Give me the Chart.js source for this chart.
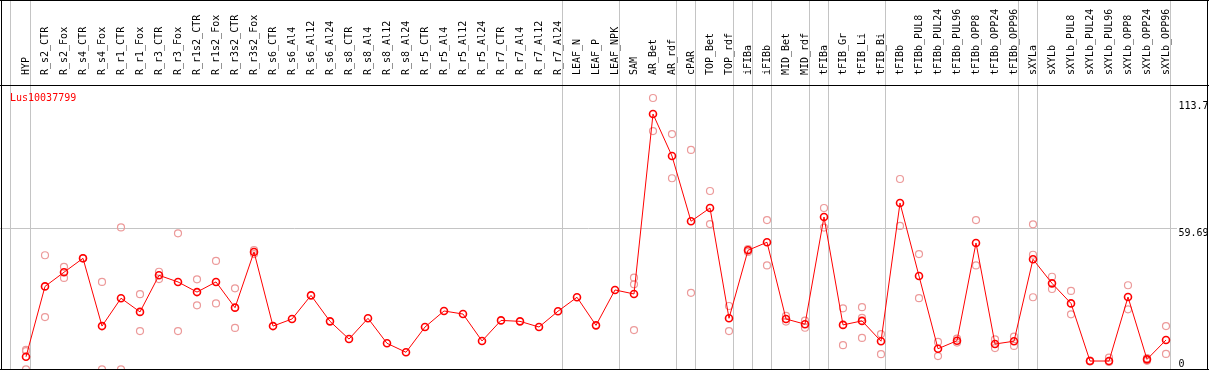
<!DOCTYPE html>
<html>
<head>
<meta charset="utf-8">
<script src="https://cdn.jsdelivr.net/npm/chart.js@4.4.1/dist/chart.umd.min.js"></script>
<style>
  html, body { margin: 0; padding: 0; background: #fff; }
</style>
</head>
<body>
<canvas id="expr" width="1209" height="370"></canvas>
<script>
const geneId = 'Lus10037799';

const samples = ['HYP', 'R_s2_CTR', 'R_s2_Fox', 'R_s4_CTR', 'R_s4_Fox', 'R_r1_CTR', 'R_r1_Fox',
  'R_r3_CTR', 'R_r3_Fox', 'R_r1s2_CTR', 'R_r1s2_Fox', 'R_r3s2_CTR', 'R_r3s2_Fox',
  'R_s6_CTR', 'R_s6_Al4', 'R_s6_Al12', 'R_s6_Al24', 'R_s8_CTR', 'R_s8_Al4', 'R_s8_Al12', 'R_s8_Al24',
  'R_r5_CTR', 'R_r5_Al4', 'R_r5_Al12', 'R_r5_Al24', 'R_r7_CTR', 'R_r7_Al4', 'R_r7_Al12', 'R_r7_Al24',
  'LEAF_N', 'LEAF_P', 'LEAF_NPK', 'SAM', 'AR_Bet', 'AR_rdf', 'cPAR', 'TOP_Bet', 'TOP_rdf',
  'iFIBa', 'iFIBb', 'MID_Bet', 'MID_rdf', 'tFIBa', 'tFIB_Gr', 'tFIB_Li', 'tFIB_Bi',
  'tFIBb', 'tFIBb_PUL8', 'tFIBb_PUL24', 'tFIBb_PUL96', 'tFIBb_OPP8', 'tFIBb_OPP24', 'tFIBb_OPP96',
  'sXYLa', 'sXYLb', 'sXYLb_PUL8', 'sXYLb_PUL24', 'sXYLb_PUL96', 'sXYLb_OPP8', 'sXYLb_OPP24', 'sXYLb_OPP96'];

// mean expression
const meanExpr = [5.3, 35.1, 41.1, 47.0, 18.3, 30.1, 24.3, 39.8, 37.0, 32.7, 37.0, 26.1, 49.7,
  18.3, 21.3, 31.3, 20.3, 12.8, 21.6, 11.0, 7.2, 17.9, 24.7, 23.4, 12.0, 20.7, 20.3, 17.9, 24.6,
  30.5, 18.6, 33.6, 31.9, 108.1, 90.3, 62.7, 68.3, 21.6, 50.4, 53.8, 21.3, 19.1, 64.5, 18.8, 20.5, 11.9,
  70.4, 39.5, 8.7, 12.1, 53.5, 10.7, 11.9, 46.6, 36.4, 27.9, 3.5, 3.5, 30.6, 4.2, 12.4];

// replicates
const rep1 = [7.7, 48.3, 43.4, 47.0, 37.0, 60.1, 31.8, 41.3, 57.6, 38.1, 45.9, 34.3, 50.5,
  null, null, null, null, null, null, null, null, null, null, null, null, null, null, null, null,
  null, null, null, 38.8, 114.9, 99.6, 92.9, 75.5, 26.8, 50.9, 63.2, 22.6, 20.6, 68.3, 25.8, 26.3, 14.9,
  80.6, 48.8, 11.6, 13.0, 63.2, 12.7, 13.8, 61.4, 39.2, 33.2, 3.7, 4.9, 35.6, 4.7, 18.3];
const rep2 = [0, 22.1, 38.7, 47.0, 0, 0, 16.2, 38.2, 16.2, 27.1, 27.9, 17.5, 48.8,
  null, null, null, null, null, null, null, null, null, null, null, null, null, null, null, null,
  null, null, null, 16.6, 100.9, 80.9, 32.4, 61.5, 16.2, 49.7, 44.0, 20.2, 17.6, 60.0, 10.2, 13.3, 6.4,
  60.7, 30.1, 5.6, 11.3, 44.0, 9.0, 9.9, 30.5, 34.0, 23.3, 3.3, 3.1, 25.4, 3.6, 6.5];
const rep3 = [8.2, null, null, null, null, null, null, null, null, null, null, null, null,
  null, null, null, null, null, null, null, null, null, null, null, null, null, null, null, null,
  null, null, null, 36.0, null, null, null, null, null, null, null, null, null, null, null, 21.8, null,
  null, null, null, null, null, null, null, 48.5, null, null, null, null, null, null, null];

// last sample of each group (separator drawn after it)
const groupEnds = ['HYP', 'R_r7_Al24', 'LEAF_NPK', 'AR_rdf', 'cPAR', 'TOP_rdf', 'iFIBa', 'iFIBb',
  'MID_rdf', 'tFIBa', 'tFIB_Bi', 'tFIBb_OPP96', 'sXYLa', 'sXYLb_OPP96'];

const yTicks = [0, 59.69, 113.7];

const MONO = '"DejaVu Sans Mono", "Liberation Mono", monospace';
const repColor = '#ec9a9a';

const frame = {
  id: 'frame',
  beforeDraw(chart) {
    const { ctx, scales: { x, y } } = chart;
    const step = x.getPixelForValue(1) - x.getPixelForValue(0);
    const xs = [x.getPixelForValue(0) - step * 0.84];
    groupEnds.forEach(n => xs.push(x.getPixelForValue(samples.indexOf(n)) + step * 0.24));
    ctx.save();
    ctx.strokeStyle = '#c4c4c4';
    ctx.lineWidth = 1;
    ctx.beginPath();
    xs.forEach(px => {
      const r = Math.floor(px) + 0.5;
      ctx.moveTo(r, 0);
      ctx.lineTo(r, chart.height);
    });
    const gy = Math.floor(y.getPixelForValue(yTicks[1])) + 0.5;
    ctx.moveTo(0, gy);
    ctx.lineTo(x.right + 11, gy);
    ctx.stroke();
    ctx.restore();
  },
  afterDraw(chart) {
    const { ctx, scales: { x, y } } = chart;
    ctx.save();
    ctx.fillStyle = '#000';
    ctx.fillRect(0, 0, chart.width, 1);
    ctx.fillRect(0, 85, chart.width, 1);
    ctx.fillRect(0, 369, chart.width, 1);
    ctx.fillRect(1, 0, 1, chart.height);
    ctx.fillRect(chart.width - 2, 0, 1, chart.height);

    ctx.font = '10px ' + MONO;
    ctx.textBaseline = 'alphabetic';
    ctx.textAlign = 'left';
    yTicks.forEach(v => {
      const py = Math.min(y.getPixelForValue(v) + 8, 367);
      ctx.fillText(String(v), x.right + 12.5, py);
    });

    ctx.fillStyle = '#ff0000';
    ctx.fillText(geneId, 10, 101);
    ctx.restore();
  }
};

const pointClip = { left: 20, top: 0, right: 20, bottom: 0 };

new Chart(document.getElementById('expr'), {
  type: 'line',
  data: {
    labels: samples,
    datasets: [
      {
        data: meanExpr,
        borderColor: '#ff0000',
        borderWidth: 1,
        pointRadius: 3.5,
        pointBorderWidth: 1.6,
        pointBackgroundColor: 'rgba(0,0,0,0)',
        pointBorderColor: '#ff0000',
        tension: 0,
        clip: pointClip
      },
      {
        data: rep1, showLine: false, pointRadius: 3.5, pointBorderWidth: 1.2,
        pointBorderColor: repColor, pointBackgroundColor: 'rgba(0,0,0,0)', clip: pointClip
      },
      {
        data: rep2, showLine: false, pointRadius: 3.5, pointBorderWidth: 1.2,
        pointBorderColor: repColor, pointBackgroundColor: 'rgba(0,0,0,0)', clip: pointClip
      },
      {
        data: rep3, showLine: false, pointRadius: 3.5, pointBorderWidth: 1.2,
        pointBorderColor: repColor, pointBackgroundColor: 'rgba(0,0,0,0)', clip: pointClip
      }
    ]
  },
  options: {
    responsive: false,
    animation: false,
    devicePixelRatio: 1,
    layout: { autoPadding: false, padding: { left: 26, right: 43, top: 0, bottom: 0 } },
    plugins: {
      legend: { display: false },
      title: { display: false },
      tooltip: { enabled: false }
    },
    scales: {
      x: {
        type: 'category',
        position: 'top',
        offset: false,
        grid: { display: false },
        border: { display: false },
        ticks: {
          autoSkip: false,
          minRotation: 90,
          maxRotation: 90,
          padding: 2,
          labelOffset: 12,
          color: '#000',
          font: { family: MONO, size: 10 }
        },
        afterFit(scale) { scale.height = 85; }
      },
      y: {
        display: false,
        min: -0.3,
        max: 120.4
      }
    }
  },
  plugins: [frame]
});
</script>
</body>
</html>
